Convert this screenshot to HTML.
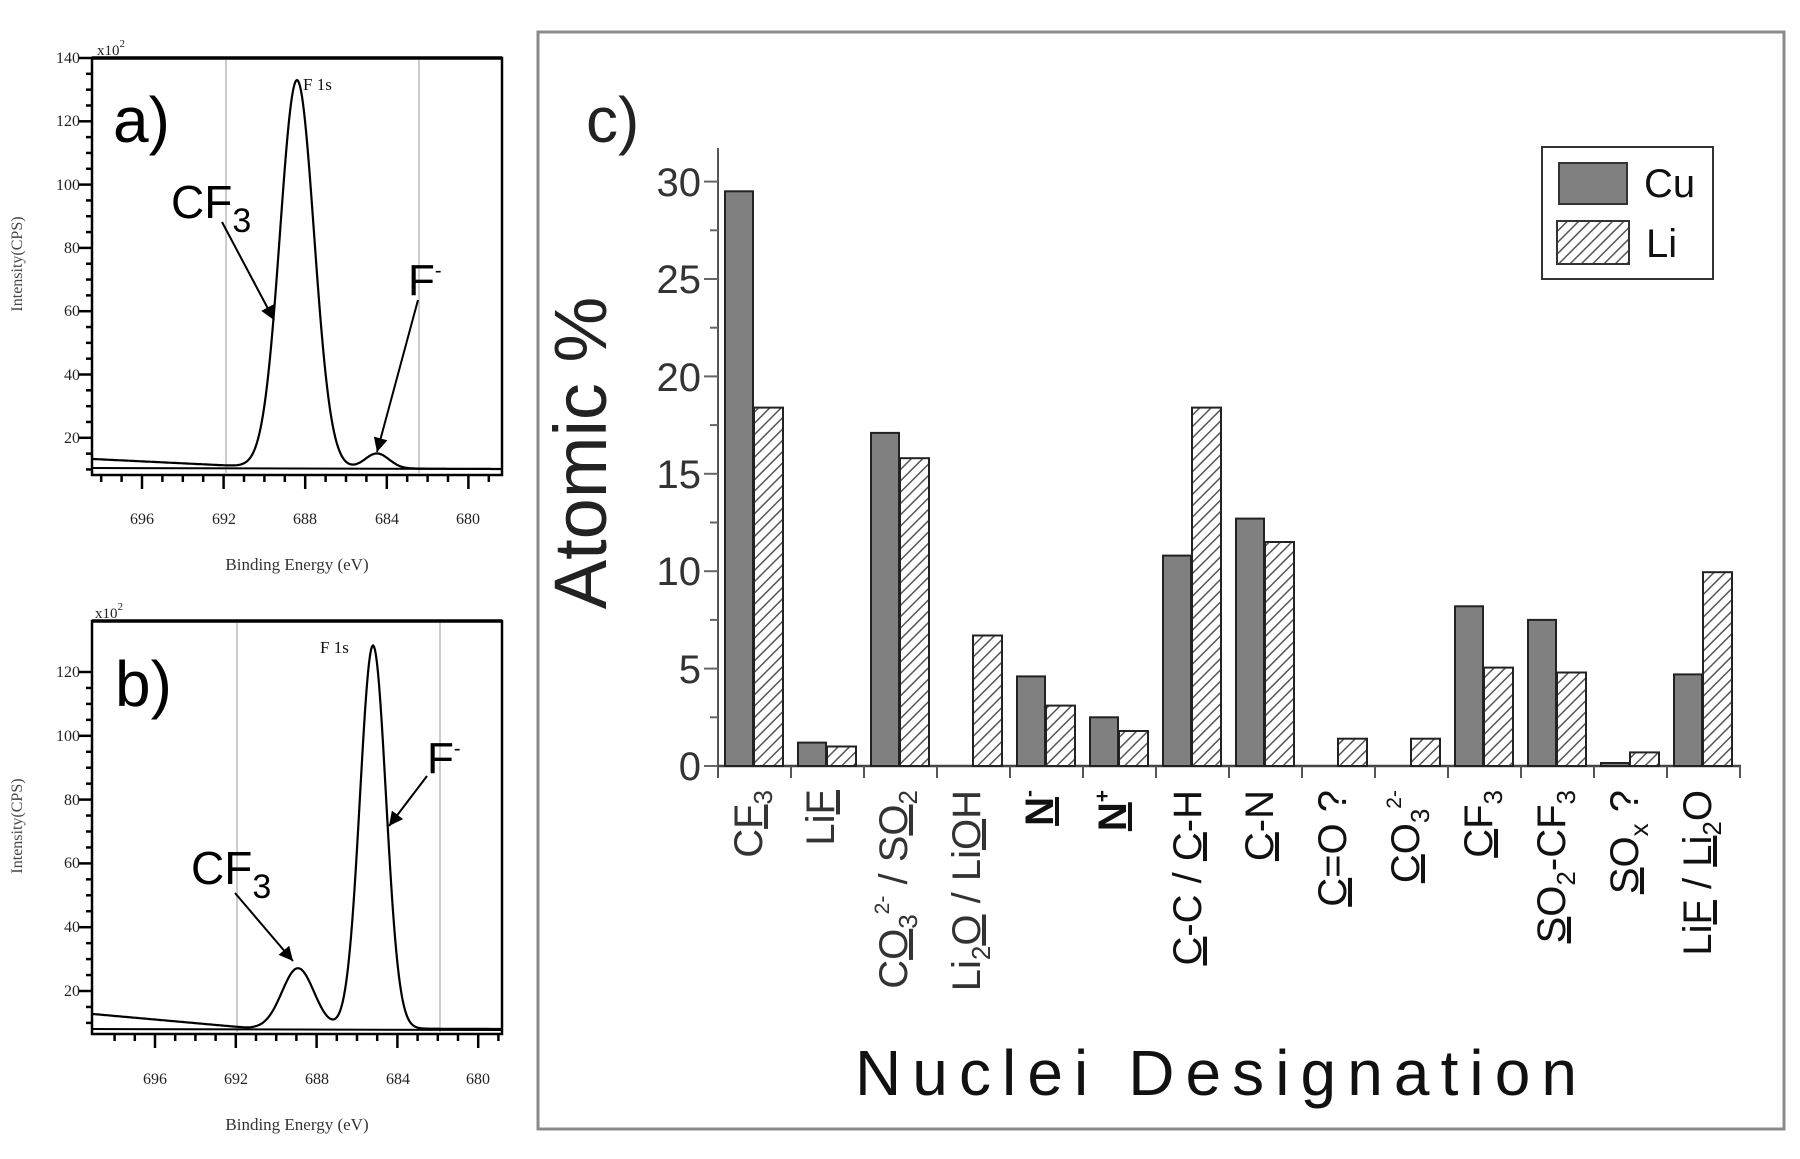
<!DOCTYPE html>
<html><head><meta charset="utf-8"><style>
html,body{margin:0;padding:0;background:#fff;}
svg{display:block;}
.ser{font-family:"Liberation Serif",serif;}
.sans{font-family:"Liberation Sans",sans-serif;}
</style></head><body>
<svg id="s" width="1800" height="1159" viewBox="0 0 1800 1159" xmlns="http://www.w3.org/2000/svg">
<defs>
<pattern id="hatch" patternUnits="userSpaceOnUse" width="8" height="8" patternTransform="rotate(45)">
<rect width="8" height="8" fill="#fff"/>
<line x1="0" y1="0" x2="0" y2="8" stroke="#555" stroke-width="3"/>
</pattern>
<marker id="arrb" viewBox="0 0 10 10" markerWidth="18" markerHeight="14" refX="10" refY="5" orient="auto" markerUnits="userSpaceOnUse">
<path d="M0,0 L10,5 L0,10 z" fill="#000"/>
</marker>
</defs>
<rect width="1800" height="1159" fill="#fff"/>

<!-- ============ PANEL A ============ -->
<g id="pa">
<line x1="226" y1="60" x2="226" y2="473" stroke="#bbb" stroke-width="1.5"/>
<line x1="419" y1="60" x2="419" y2="473" stroke="#bbb" stroke-width="1.5"/>
<rect x="92" y="58" width="410" height="417" fill="none" stroke="#000" stroke-width="2.5"/>
<line x1="92" y1="58" x2="502" y2="58" stroke="#000" stroke-width="3.5"/>
<line x1="92" y1="468" x2="502" y2="469" stroke="#000" stroke-width="2"/>
<path id="ca" fill="none" stroke="#000" stroke-width="2.2"/>
<g id="ta" stroke="#000" stroke-width="2.5"></g>
<g class="ser" font-size="16" fill="#222" text-anchor="end">
<text x="80" y="63">140</text><text x="80" y="126">120</text><text x="80" y="190">100</text>
<text x="80" y="253">80</text><text x="80" y="316">60</text><text x="80" y="380">40</text><text x="80" y="443">20</text>
</g>
<text class="ser" x="97" y="55" font-size="15" fill="#222">x10<tspan dy="-8" font-size="11">2</tspan></text>
<g class="ser" font-size="16" fill="#222" text-anchor="middle">
<text x="142" y="524">696</text><text x="224" y="524">692</text><text x="305" y="524">688</text><text x="387" y="524">684</text><text x="468" y="524">680</text>
</g>
<text class="ser" x="297" y="570" font-size="17" fill="#333" text-anchor="middle">Binding Energy (eV)</text>
<text class="ser" transform="translate(22,264) rotate(-90)" font-size="16" fill="#444" text-anchor="middle">Intensity(CPS)</text>
<text class="ser" x="303" y="90" font-size="17" fill="#111">F 1s</text>
<text class="sans" x="113" y="142" font-size="64" fill="#000">a)</text>
<text class="sans" x="171" y="218" font-size="46" fill="#000">CF<tspan dy="14" font-size="34">3</tspan></text>
<line x1="222" y1="222" x2="274" y2="320" stroke="#000" stroke-width="2" marker-end="url(#arrb)"/>
<text class="sans" x="408" y="295" font-size="44" fill="#000">F<tspan dy="-18" font-size="20">-</tspan></text>
<line x1="418" y1="300" x2="377" y2="452" stroke="#000" stroke-width="2" marker-end="url(#arrb)"/>
</g>

<!-- ============ PANEL B ============ -->
<g id="pb">
<line x1="237" y1="623" x2="237" y2="1032" stroke="#bbb" stroke-width="1.5"/>
<line x1="440" y1="623" x2="440" y2="1032" stroke="#bbb" stroke-width="1.5"/>
<rect x="92" y="621" width="410" height="413" fill="none" stroke="#000" stroke-width="2.5"/>
<line x1="92" y1="621" x2="502" y2="621" stroke="#000" stroke-width="3.5"/>
<line x1="92" y1="1029" x2="502" y2="1030" stroke="#000" stroke-width="2"/>
<path id="cb" fill="none" stroke="#000" stroke-width="2.2"/>
<g id="tb" stroke="#000" stroke-width="2.5"></g>
<g class="ser" font-size="16" fill="#222" text-anchor="end">
<text x="80" y="677">120</text><text x="80" y="741">100</text><text x="80" y="805">80</text>
<text x="80" y="868">60</text><text x="80" y="932">40</text><text x="80" y="996">20</text>
</g>
<text class="ser" x="95" y="618" font-size="15" fill="#222">x10<tspan dy="-8" font-size="11">2</tspan></text>
<g class="ser" font-size="16" fill="#222" text-anchor="middle">
<text x="155" y="1084">696</text><text x="236" y="1084">692</text><text x="317" y="1084">688</text><text x="398" y="1084">684</text><text x="478" y="1084">680</text>
</g>
<text class="ser" x="297" y="1130" font-size="17" fill="#333" text-anchor="middle">Binding Energy (eV)</text>
<text class="ser" transform="translate(22,826) rotate(-90)" font-size="16" fill="#444" text-anchor="middle">Intensity(CPS)</text>
<text class="ser" x="320" y="653" font-size="17" fill="#111">F 1s</text>
<text class="sans" x="115" y="706" font-size="64" fill="#000">b)</text>
<text class="sans" x="191" y="884" font-size="46" fill="#000">CF<tspan dy="14" font-size="34">3</tspan></text>
<line x1="235" y1="893" x2="293" y2="961" stroke="#000" stroke-width="2" marker-end="url(#arrb)"/>
<text class="sans" x="427" y="773" font-size="44" fill="#000">F<tspan dy="-18" font-size="20">-</tspan></text>
<line x1="427" y1="776" x2="389" y2="826" stroke="#000" stroke-width="2" marker-end="url(#arrb)"/>
</g>

<!-- ============ PANEL C ============ -->
<rect x="538" y="32" width="1246" height="1097" fill="none" stroke="#8a8a8a" stroke-width="3"/>
<text class="sans" x="586" y="142" font-size="64" fill="#222">c)</text>
<text class="sans" transform="translate(606,453) rotate(-90)" font-size="74" fill="#222" text-anchor="middle">Atomic %</text>
<line x1="718" y1="148" x2="718" y2="768" stroke="#555" stroke-width="2"/>
<line x1="718" y1="766" x2="1741" y2="766" stroke="#444" stroke-width="2.5"/>
<g stroke="#666" stroke-width="2">
<line x1="704" y1="181.6" x2="718" y2="181.6"/><line x1="710" y1="230.3" x2="718" y2="230.3"/>
<line x1="704" y1="279" x2="718" y2="279"/><line x1="710" y1="327.7" x2="718" y2="327.7"/>
<line x1="704" y1="376.4" x2="718" y2="376.4"/><line x1="710" y1="425.1" x2="718" y2="425.1"/>
<line x1="704" y1="473.8" x2="718" y2="473.8"/><line x1="710" y1="522.5" x2="718" y2="522.5"/>
<line x1="704" y1="571.2" x2="718" y2="571.2"/><line x1="710" y1="619.9" x2="718" y2="619.9"/>
<line x1="704" y1="668.6" x2="718" y2="668.6"/><line x1="710" y1="717.3" x2="718" y2="717.3"/>
<line x1="704" y1="766" x2="718" y2="766"/>
</g>
<g class="sans" font-size="40" fill="#333" text-anchor="end">
<text x="701" y="196">30</text><text x="701" y="293">25</text><text x="701" y="391">20</text>
<text x="701" y="488">15</text><text x="701" y="585">10</text><text x="701" y="683">5</text><text x="701" y="780">0</text>
</g>
<g stroke="#555" stroke-width="2">
<line x1="718" y1="766" x2="718" y2="778"/><line x1="791" y1="766" x2="791" y2="778"/><line x1="864" y1="766" x2="864" y2="778"/>
<line x1="937" y1="766" x2="937" y2="778"/><line x1="1010" y1="766" x2="1010" y2="778"/><line x1="1083" y1="766" x2="1083" y2="778"/>
<line x1="1156" y1="766" x2="1156" y2="778"/><line x1="1229" y1="766" x2="1229" y2="778"/><line x1="1302" y1="766" x2="1302" y2="778"/>
<line x1="1375" y1="766" x2="1375" y2="778"/><line x1="1448" y1="766" x2="1448" y2="778"/><line x1="1521" y1="766" x2="1521" y2="778"/>
<line x1="1594" y1="766" x2="1594" y2="778"/><line x1="1667" y1="766" x2="1667" y2="778"/><line x1="1740" y1="766" x2="1740" y2="778"/>
</g>
<g stroke="#222" stroke-width="2">
<rect x="725" y="191.3" width="28" height="574.7" fill="#808080"/>
<rect x="754" y="407.6" width="29" height="358.4" fill="url(#hatch)"/>
<rect x="798" y="742.6" width="28" height="23.4" fill="#808080"/>
<rect x="827" y="746.5" width="29" height="19.5" fill="url(#hatch)"/>
<rect x="871" y="432.9" width="28" height="333.1" fill="#808080"/>
<rect x="900" y="458.2" width="29" height="307.8" fill="url(#hatch)"/>
<rect x="973" y="635.5" width="29" height="130.5" fill="url(#hatch)"/>
<rect x="1017" y="676.4" width="28" height="89.6" fill="#808080"/>
<rect x="1046" y="705.6" width="29" height="60.4" fill="url(#hatch)"/>
<rect x="1090" y="717.3" width="28" height="48.7" fill="#808080"/>
<rect x="1119" y="731" width="29" height="35" fill="url(#hatch)"/>
<rect x="1163" y="555.6" width="28" height="210.4" fill="#808080"/>
<rect x="1192" y="407.6" width="29" height="358.4" fill="url(#hatch)"/>
<rect x="1236" y="518.6" width="28" height="247.4" fill="#808080"/>
<rect x="1265" y="542" width="29" height="224" fill="url(#hatch)"/>
<rect x="1338" y="738.7" width="29" height="27.3" fill="url(#hatch)"/>
<rect x="1411" y="738.7" width="29" height="27.3" fill="url(#hatch)"/>
<rect x="1455" y="606.3" width="28" height="159.7" fill="#808080"/>
<rect x="1484" y="667.6" width="29" height="98.4" fill="url(#hatch)"/>
<rect x="1528" y="619.9" width="28" height="146.1" fill="#808080"/>
<rect x="1557" y="672.5" width="29" height="93.5" fill="url(#hatch)"/>
<rect x="1601" y="763" width="28" height="3" fill="#808080"/>
<rect x="1630" y="752.4" width="29" height="13.6" fill="url(#hatch)"/>
<rect x="1674" y="674.4" width="28" height="91.6" fill="#808080"/>
<rect x="1703" y="572.2" width="29" height="193.8" fill="url(#hatch)"/>
</g>
<rect x="1542" y="147" width="171" height="132" fill="#fff" stroke="#333" stroke-width="2"/>
<rect x="1559" y="163" width="68" height="41" fill="#808080" stroke="#333" stroke-width="2"/>
<rect x="1557" y="221" width="72" height="43" fill="url(#hatch)" stroke="#333" stroke-width="2"/>
<text class="sans" x="1644" y="197" font-size="40" fill="#111">Cu</text>
<text class="sans" x="1646" y="257" font-size="40" fill="#111">Li</text>
<g class="sans" font-size="40" text-anchor="end">
<text transform="translate(762,790) rotate(-90)" fill="#333">C<tspan text-decoration="underline">F</tspan><tspan dy="10" font-size="26">3</tspan></text>
<text transform="translate(834,790) rotate(-90)" fill="#333">Li<tspan text-decoration="underline">F</tspan></text>
<text transform="translate(907,790) rotate(-90)" fill="#333">C<tspan text-decoration="underline">O</tspan><tspan dy="10" font-size="26">3</tspan><tspan dy="-28" font-size="21">2-</tspan><tspan dy="18"> / S</tspan><tspan text-decoration="underline">O</tspan><tspan dy="10" font-size="26">2</tspan></text>
<text transform="translate(980,790) rotate(-90)" fill="#333">Li<tspan dy="10" font-size="26">2</tspan><tspan dy="-10" text-decoration="underline">O</tspan> / Li<tspan text-decoration="underline">O</tspan>H</text>
<text transform="translate(1053,790) rotate(-90)" fill="#111" font-weight="bold"><tspan text-decoration="underline">N</tspan><tspan dy="-17" font-size="21">-</tspan></text>
<text transform="translate(1126,790) rotate(-90)" fill="#111" font-weight="bold"><tspan text-decoration="underline">N</tspan><tspan dy="-17" font-size="21">+</tspan></text>
<text transform="translate(1201,790) rotate(-90)" fill="#111"><tspan text-decoration="underline">C</tspan>-C / <tspan text-decoration="underline">C</tspan>-H</text>
<text transform="translate(1273,790) rotate(-90)" fill="#111"><tspan text-decoration="underline">C</tspan>-N</text>
<text transform="translate(1346,790) rotate(-90)" fill="#111"><tspan text-decoration="underline">C</tspan>=O ?</text>
<text transform="translate(1419,790) rotate(-90)" fill="#111"><tspan text-decoration="underline">C</tspan>O<tspan dy="10" font-size="26">3</tspan><tspan dy="-28" font-size="21">2-</tspan></text>
<text transform="translate(1492,790) rotate(-90)" fill="#111"><tspan text-decoration="underline">C</tspan>F<tspan dy="10" font-size="26">3</tspan></text>
<text transform="translate(1565,790) rotate(-90)" fill="#111"><tspan text-decoration="underline">S</tspan>O<tspan dy="10" font-size="26">2</tspan><tspan dy="-10">-CF</tspan><tspan dy="10" font-size="26">3</tspan></text>
<text transform="translate(1638,790) rotate(-90)" fill="#111"><tspan text-decoration="underline">S</tspan>O<tspan dy="10" font-size="26">x</tspan><tspan dy="-10"> ?</tspan></text>
<text transform="translate(1711,790) rotate(-90)" fill="#111">Li<tspan text-decoration="underline">F</tspan> / <tspan text-decoration="underline">Li</tspan><tspan dy="10" font-size="26">2</tspan><tspan dy="-10">O</tspan></text>
</g>
<text class="sans" x="855" y="1095" font-size="64" fill="#111" textLength="722" lengthAdjust="spacing">Nuclei Designation</text>
</svg>
<script>
(function(){
function g(x,m,s){return Math.exp(-((x-m)*(x-m))/(2*s*s));}
var d="";
for(var x=93;x<=501;x+=1){
 var b = x<280 ? 459+(x-93)*(9/187) : 468+(x-280)*(1/222);
 var y=b-388*g(x,297,17)-15*g(x,377,12);
 d+=(x==93?"M":"L")+x+","+y.toFixed(1);
}
document.getElementById("ca").setAttribute("d",d);
d="";
for(var x=93;x<=501;x+=1){
 var b = x<250 ? 1014+(x-93)*(14/157) : 1028+(x-250)*(1/252);
 var y=b-60*g(x,298,16)-383*g(x,373,13);
 d+=(x==93?"M":"L")+x+","+y.toFixed(1);
}
document.getElementById("cb").setAttribute("d",d);
function ticks(id,x0,ppe,ybot,ytop,ppy,v0){
 var el=document.getElementById(id),h="";
 for(var e=698;e>=679;e--){var x=x0+(696-e)*ppe; if(x<92||x>502)continue;
  var L=(e%4==0)?14:7; h+='<line x1="'+x+'" y1="'+ybot+'" x2="'+x+'" y2="'+(ybot+L)+'"/>';}
 for(var v=0;v<=140;v+=5){var y=ytop+(v0-v)*ppy; if(y<ytop-1||y>ybot)continue;
  var L=(v%20==0)?14:6; h+='<line x1="'+(92-L)+'" y1="'+y+'" x2="92" y2="'+y+'"/>';}
 el.innerHTML=h;
}
ticks("ta",142,20.4,475,58,63.3/20,140);
ticks("tb",155,20.2,1034,672,63.8/20,120);
})();
</script>
</body></html>
